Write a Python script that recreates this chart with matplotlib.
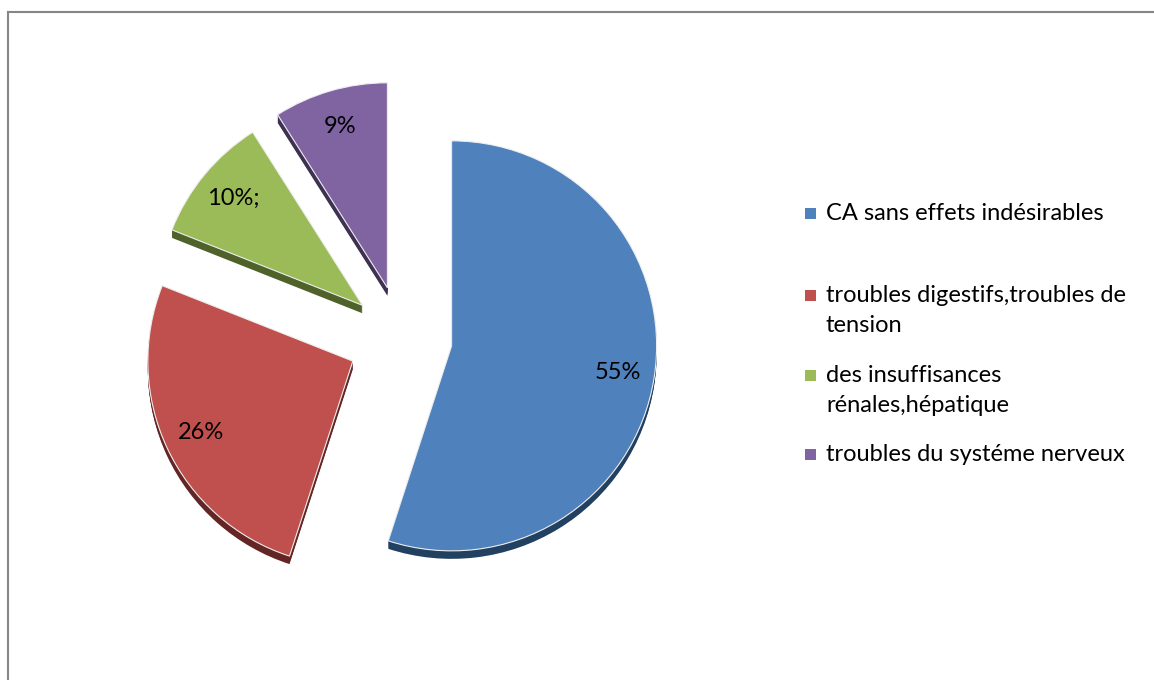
import matplotlib
matplotlib.use("Agg")
import matplotlib.pyplot as plt
from matplotlib.patches import Rectangle
from matplotlib.lines import Line2D

# Data
categories = [
    "CA sans effets indésirables",
    "troubles digestifs,troubles de\ntension",
    "des insuffisances\nrénales,hépatique",
    "troubles du systéme nerveux",
]
values = [55, 26, 10, 9]
value_labels = ["55%", "26%", "10%;", "9%"]

colors = ["#4F81BD", "#C0504D", "#9BBB59", "#8064A2"]
side_colors = ["#22405F", "#642624", "#4F6229", "#3E3152"]

W, H = 1154, 680
plt.rcParams["font.family"] = ["Lato", "DejaVu Sans"]

fig = plt.figure(figsize=(W / 100, H / 100), dpi=100)
ax = fig.add_axes([0, 0, 1, 1])

cx, cy, r = 402, H - 338, 205
depth = 8
# pie() takes explode offsets in data units, so scale by the radius
explode = [f * r for f in (0.245, 0.265, 0.25, 0.255)]

# side of the 3D disc: stacked darker copies shifted downwards
for k in range(1, depth + 1):
    ax.pie(values, explode=explode, radius=r, center=(cx, cy - k),
           colors=side_colors, startangle=90, counterclock=False,
           wedgeprops=dict(linewidth=0))

wedges, texts = ax.pie(values, explode=explode, radius=r, center=(cx, cy),
                       colors=colors, labels=value_labels, labeldistance=0.82,
                       startangle=90, counterclock=False,
                       wedgeprops=dict(edgecolor="#EEEEEE", linewidth=0.8),
                       textprops=dict(fontsize=17, color="black"))
for t in texts:
    t.set_horizontalalignment("center")
    t.set_verticalalignment("center")

ax.set_xlim(0, W)
ax.set_ylim(0, H)
ax.set_aspect("equal")
ax.axis("off")

# legend
leg_x = 805
leg_rows = [214, 296, 376, 455]
for lab, col, y in zip(categories, colors, leg_rows):
    ax.add_patch(Rectangle((leg_x, H - y - 5), 11, 11, facecolor=col, edgecolor="none"))
    ax.text(leg_x + 21, H - y + 11, lab, fontsize=17, va="top", ha="left",
            linespacing=1.5)

# chart frame (top and left edges only)
fig.add_artist(Line2D([8 / W, 1], [1 - 12 / H, 1 - 12 / H], color="#868686", lw=1.5))
fig.add_artist(Line2D([8 / W, 8 / W], [0, 1 - 12 / H], color="#868686", lw=1.5))

fig.savefig("out.png", dpi=100)
